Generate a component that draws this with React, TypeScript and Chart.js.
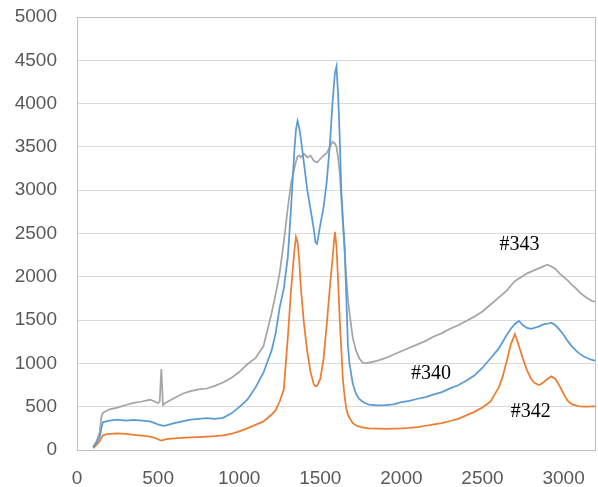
import React, { useEffect, useRef } from "react";
import { Chart, registerables } from "chart.js";

Chart.register(...registerables);

// Raman shift (x values, shared by all series)
const shift = [
  100, 120, 140, 150, 160, 180, 200, 250, 300, 350, 400, 450, 480, 500, 510, 520, 530, 550,
  600, 650, 700, 750, 800, 850, 900, 950, 1000, 1050, 1100, 1150, 1200, 1225, 1250, 1275,
  1300, 1320, 1340, 1350, 1360, 1370, 1380, 1400, 1420, 1440, 1460, 1470, 1480, 1500, 1520,
  1540, 1560, 1575, 1590, 1600, 1610, 1620, 1630, 1640, 1650, 1660, 1670, 1680, 1700, 1720,
  1740, 1760, 1780, 1800, 1850, 1900, 1950, 2000, 2050, 2100, 2150, 2200, 2250, 2300, 2350,
  2400, 2450, 2500, 2550, 2600, 2625, 2650, 2675, 2700, 2725, 2750, 2775, 2800, 2825, 2850,
  2875, 2900, 2925, 2950, 2975, 3000, 3025, 3050, 3075, 3100, 3125, 3150, 3175, 3200,
];

// #340 (blue)
const s340 = [
  30, 80, 150, 250, 320, 330, 340, 350, 340, 348, 338, 330, 310, 295, 290, 285, 280, 285,
  310, 330, 350, 360, 368, 360, 372, 420, 495, 580, 720, 895, 1150, 1350, 1650, 1860,
  2230, 2800, 3450, 3700, 3800, 3720, 3600, 3300, 3000, 2780, 2550, 2400, 2380, 2600, 2800,
  3100, 3550, 4000, 4350, 4430, 4100, 3600, 2980, 2650, 2350, 1800, 1220, 1000, 770, 650,
  590, 560, 540, 525, 515, 518, 528, 552, 568, 592, 610, 642, 668, 712, 748,
  800, 860, 950, 1060, 1170, 1250, 1330, 1400, 1455, 1490, 1440, 1410, 1400, 1412, 1428,
  1450, 1458, 1470, 1440, 1390, 1330, 1260, 1200, 1150, 1110, 1080, 1060, 1040, 1030,
];

// #342 (orange)
const s342 = [
  20, 60, 100, 140, 170, 180, 185, 192, 185, 175, 165, 155, 140, 125, 115, 110, 115, 125,
  135, 140, 145, 150, 155, 160, 170, 185, 215, 250, 290, 330, 410, 460, 560, 700,
  1300, 1850, 2300, 2460, 2400, 2200, 1870, 1450, 1130, 900, 760, 735, 740, 820, 1050,
  1450, 1900, 2200, 2520, 2350, 1950, 1500, 1150, 800, 620, 480, 410, 370, 310, 285,
  270, 260, 255, 250, 248, 245, 248, 250, 255, 265, 280, 295, 310, 335, 360,
  400, 440, 490, 560, 720, 850, 1030, 1220, 1340, 1200, 1050, 920, 820, 770, 750,
  780, 820, 850, 820, 740, 650, 570, 530, 515, 505, 500, 500, 505, 505,
];

// #343 (gray)
const s343 = [
  40, 100, 200, 380, 430, 450, 470, 490, 520, 545, 560, 580, 560, 540, 560, 935, 520, 550,
  600, 650, 680, 700, 710, 740, 780, 830, 900, 990, 1060, 1200, 1580, 1800, 2050, 2400,
  2800, 3080, 3250, 3330, 3390, 3400, 3380, 3420, 3380, 3400, 3340, 3330, 3320, 3360, 3400,
  3430, 3500, 3560, 3540, 3500, 3380, 3200, 2900, 2600, 2300, 2000, 1750, 1580, 1300, 1150,
  1060, 1010, 1000, 1010, 1030, 1060, 1100, 1140, 1180, 1220, 1260, 1310, 1350, 1400, 1440,
  1490, 1540, 1600, 1680, 1760, 1800, 1840, 1900, 1950, 1980, 2010, 2040, 2060, 2080, 2100,
  2120, 2140, 2120, 2090, 2040, 2000, 1960, 1910, 1870, 1820, 1780, 1750, 1720, 1710,
];

const seriesNames = ["#340", "#342", "#343"];
const seriesColors = ["#5b9bd5", "#ed7d31", "#a5a5a5"];
const seriesValues = [s340, s342, s343];

// annotation labels: text and anchor in data units
const labelTexts = ["#343", "#340", "#342"];
const labelX = [2729, 2182, 2797];
const labelY = [2367, 878, 439];

// tick values
const xTicks = [0, 500, 1000, 1500, 2000, 2500, 3000];
const yTicks = [0, 500, 1000, 1500, 2000, 2500, 3000, 3500, 4000, 4500, 5000];

const boxPlugin = {
  id: "box",
  afterDraw(chart: any) {
    const { ctx, chartArea } = chart;
    ctx.save();
    ctx.strokeStyle = "#bfbfbf";
    ctx.lineWidth = 1;
    ctx.strokeRect(
      Math.round(chartArea.left) + 0.5,
      Math.round(chartArea.top) + 0.5,
      Math.round(chartArea.right - chartArea.left) - 1,
      Math.round(chartArea.bottom - chartArea.top)
    );
    ctx.restore();
  },
};

const labelPlugin = {
  id: "seriesLabels",
  afterDatasetsDraw(chart: any) {
    const { ctx, scales } = chart;
    ctx.save();
    ctx.font = '20px "Liberation Serif", "DejaVu Serif", serif';
    ctx.fillStyle = "#000000";
    ctx.textAlign = "center";
    ctx.textBaseline = "middle";
    labelTexts.forEach((t, i) => {
      ctx.fillText(t, scales.x.getPixelForValue(labelX[i]), scales.y.getPixelForValue(labelY[i]));
    });
    ctx.restore();
  },
};

const tickFont = { family: '"Liberation Sans", Arial, sans-serif', size: 19 };

export default function App() {
  const ref = useRef<HTMLCanvasElement>(null);

  useEffect(() => {
    if (!ref.current) return;
    const chart = new Chart(ref.current, {
      type: "line",
      data: {
        datasets: seriesNames.map((name, k) => ({
          label: name,
          data: shift.map((x, i) => ({ x, y: seriesValues[k][i] })),
          borderColor: seriesColors[k],
          backgroundColor: seriesColors[k],
          borderWidth: 1.75,
          pointRadius: 0,
          tension: 0,
          fill: false,
        })),
      },
      options: {
        animation: false,
        responsive: true,
        maintainAspectRatio: false,
        layout: { padding: { top: 17, right: 2, left: 0, bottom: 0 } },
        plugins: {
          legend: { display: false },
          tooltip: { enabled: false },
        },
        scales: {
          x: {
            type: "linear",
            min: 0,
            max: 3200,
            grid: { display: false },
            border: { display: false },
            afterBuildTicks(scale: any) {
              scale.ticks = xTicks.map((v) => ({ value: v }));
            },
            ticks: {
              autoSkip: false,
              padding: 9,
              maxRotation: 0,
              color: "#595959",
              font: tickFont,
              callback: (v: any) => String(v),
            },
            afterFit(scale: any) {
              scale.height = 37;
              scale.paddingLeft = 0;
              scale.paddingRight = 0;
            },
          },
          y: {
            type: "linear",
            min: 0,
            max: 5000,
            grid: { color: "#d9d9d9", lineWidth: 1, drawTicks: false },
            border: { display: false },
            afterBuildTicks(scale: any) {
              scale.ticks = yTicks.map((v) => ({ value: v }));
            },
            ticks: {
              autoSkip: false,
              padding: 20,
              color: "#595959",
              font: tickFont,
              callback: (v: any) => String(v),
            },
            afterFit(scale: any) {
              scale.width = 77;
              scale.paddingTop = 0;
              scale.paddingBottom = 0;
            },
          },
        },
      },
      plugins: [boxPlugin, labelPlugin],
    });
    return () => chart.destroy();
  }, []);

  return (
    <div style={{ position: "absolute", left: 0, top: 0, width: 598, height: 487, background: "#fff" }}>
      <canvas ref={ref} />
    </div>
  );
}
